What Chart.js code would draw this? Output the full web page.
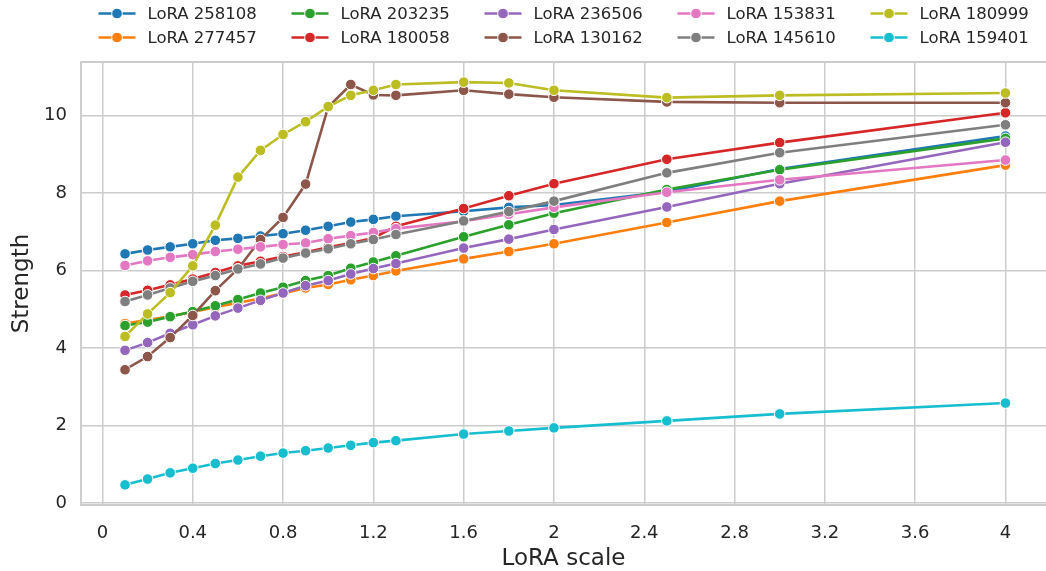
<!DOCTYPE html>
<html><head><meta charset="utf-8">
<script src="https://cdn.jsdelivr.net/npm/chart.js@4"></script>
<style>
html,body{margin:0;padding:0;background:#fff;overflow:hidden;}
#c{display:block;}
</style></head>
<body><canvas id="c" width="1046" height="571" style="width:1046px;height:571px;"></canvas>
<script>
const xValues = [0.1,0.2,0.3,0.4,0.5,0.6,0.7,0.8,0.9,1.0,1.1,1.2,1.3,1.6,1.8,2.0,2.5,3.0,4.0];

const seriesNames = ['LoRA 258108','LoRA 277457','LoRA 203235','LoRA 180058','LoRA 236506','LoRA 130162','LoRA 153831','LoRA 145610','LoRA 180999','LoRA 159401'];
const seriesColors = ['#1f77b4','#ff7f0e','#2ca02c','#d62728','#9467bd','#8c564b','#e377c2','#7f7f7f','#bcbd22','#17becf'];

const lora258108 = [6.43,6.53,6.61,6.69,6.78,6.83,6.89,6.95,7.04,7.14,7.25,7.32,7.40,7.53,7.63,7.69,8.03,8.62,9.47];
const lora277457 = [4.63,4.72,4.82,4.93,5.05,5.17,5.28,5.41,5.55,5.64,5.76,5.87,5.99,6.30,6.49,6.69,7.24,7.79,8.72];
const lora203235 = [4.58,4.67,4.81,4.94,5.09,5.25,5.42,5.57,5.74,5.87,6.06,6.22,6.38,6.87,7.18,7.48,8.09,8.60,9.41];
const lora180058 = [5.37,5.49,5.63,5.78,5.95,6.12,6.24,6.36,6.47,6.60,6.71,6.84,7.14,7.60,7.93,8.24,8.87,9.30,10.07];
const lora236506 = [3.94,4.14,4.38,4.60,4.83,5.03,5.23,5.42,5.61,5.74,5.91,6.05,6.18,6.58,6.81,7.06,7.64,8.24,9.31];
const lora130162 = [3.44,3.78,4.27,4.84,5.48,6.04,6.80,7.37,8.23,10.22,10.80,10.53,10.52,10.65,10.55,10.47,10.35,10.33,10.33];
const lora153831 = [6.13,6.25,6.34,6.41,6.49,6.55,6.61,6.67,6.71,6.82,6.90,6.98,7.08,7.27,7.45,7.63,8.02,8.34,8.85];
const lora145610 = [5.20,5.37,5.55,5.72,5.87,6.04,6.17,6.32,6.45,6.56,6.69,6.80,6.93,7.28,7.52,7.79,8.52,9.04,9.76];
const lora180999 = [4.30,4.88,5.43,6.12,7.17,8.41,9.10,9.51,9.84,10.23,10.52,10.65,10.80,10.86,10.84,10.65,10.46,10.52,10.58];
const lora159401 = [0.47,0.62,0.78,0.90,1.02,1.11,1.21,1.29,1.35,1.42,1.49,1.56,1.61,1.78,1.86,1.94,2.12,2.30,2.58];

const xTicks = [0,0.4,0.8,1.2,1.6,2,2.4,2.8,3.2,3.6,4];
const xTickLabels = ['0','0.4','0.8','1.2','1.6','2','2.4','2.8','3.2','3.6','4'];
const yTicks = [0,2,4,6,8,10];
const yTickLabels = ['0','2','4','6','8','10'];

const allSeries = [lora258108,lora277457,lora203235,lora180058,lora236506,lora130162,lora153831,lora145610,lora180999,lora159401];

const FONT = "'DejaVu Sans', sans-serif";
const TXT = '#262626';
const GRID = '#cccccc';

const datasets = allSeries.map((vals, i) => ({
  label: seriesNames[i],
  data: vals.map((v, j) => ({x: xValues[j], y: v})),
  borderColor: seriesColors[i],
  backgroundColor: seriesColors[i],
  pointBackgroundColor: seriesColors[i],
  pointBorderColor: '#ffffff',
  pointBorderWidth: 1,
  pointRadius: 5.3,
  borderWidth: 2.6,
  tension: 0,
  order: allSeries.length - 1 - i
}));

const framePlugin = {
  id: 'frame',
  beforeDatasetsDraw(chart) {
    const a = chart.chartArea, ctx = chart.ctx;
    ctx.save();
    ctx.strokeStyle = GRID;
    ctx.lineWidth = 1.9;
    ctx.beginPath();
    ctx.moveTo(chart.width + 2, a.top);
    ctx.lineTo(a.left, a.top);
    ctx.lineTo(a.left, a.bottom);
    ctx.lineTo(chart.width + 2, a.bottom);
    ctx.stroke();
    ctx.restore();
  }
};

const legendPlugin = {
  id: 'customLegend',
  afterDraw(chart) {
    const ctx = chart.ctx;
    ctx.save();
    ctx.font = "16.5px " + FONT;
    ctx.textBaseline = 'middle';
    ctx.textAlign = 'left';
    seriesNames.forEach((name, i) => {
      const col = Math.floor(i / 2), row = i % 2;
      const x0 = 98.5 + col * 193;
      const y = 13.5 + row * 24;
      ctx.strokeStyle = seriesColors[i];
      ctx.lineWidth = 2.6;
      ctx.beginPath();
      ctx.moveTo(x0, y); ctx.lineTo(x0 + 37, y); ctx.stroke();
      ctx.beginPath();
      ctx.arc(x0 + 18.5, y, 5.3, 0, Math.PI * 2);
      ctx.fillStyle = seriesColors[i];
      ctx.fill();
      ctx.strokeStyle = '#ffffff';
      ctx.lineWidth = 1;
      ctx.stroke();
      ctx.fillStyle = TXT;
      ctx.fillText(name, x0 + 49, y + 1);
    });
    ctx.restore();
  }
};

new Chart(document.getElementById('c'), {
  type: 'line',
  data: { datasets },
  options: {
    responsive: false,
    maintainAspectRatio: false,
    animation: false,
    devicePixelRatio: 1,
    layout: { autoPadding: false, padding: { top: 62, right: 0, left: 0, bottom: 0 } },
    plugins: { legend: { display: false }, tooltip: { enabled: false } },
    scales: {
      x: {
        type: 'linear',
        min: -0.095, max: 4.1796,
        afterBuildTicks: (axis) => { axis.ticks = xTicks.map(v => ({ value: v })); },
        afterFit: (s) => { s.height = 66; s.paddingLeft = 0; s.paddingRight = 0; },
        ticks: {
          callback: (v, i) => xTickLabels[i],
          font: { family: FONT, size: 18 }, color: TXT, padding: 18, maxRotation: 0, autoSkip: false
        },
        grid: { color: GRID, lineWidth: 1.5, drawTicks: false },
        border: { display: false },
        title: { display: true, text: 'LoRA scale', font: { family: FONT, size: 23, lineHeight: 1.0 }, color: TXT, padding: { top: 0, bottom: 0 } }
      },
      y: {
        type: 'linear',
        min: -0.05, max: 11.38,
        afterBuildTicks: (axis) => { axis.ticks = yTicks.map(v => ({ value: v })); },
        afterFit: (s) => { s.width = 81; s.paddingTop = 0; s.paddingBottom = 0; },
        ticks: {
          callback: (v, i) => yTickLabels[i],
          font: { family: FONT, size: 18 }, color: TXT, padding: 14, autoSkip: false
        },
        grid: { color: GRID, lineWidth: 1.5, drawTicks: false },
        border: { display: false },
        title: { display: true, text: 'Strength', font: { family: FONT, size: 23 }, color: TXT, padding: { top: 8, bottom: 0 } }
      }
    }
  },
  plugins: [framePlugin, legendPlugin]
});
</script>
</body></html>
